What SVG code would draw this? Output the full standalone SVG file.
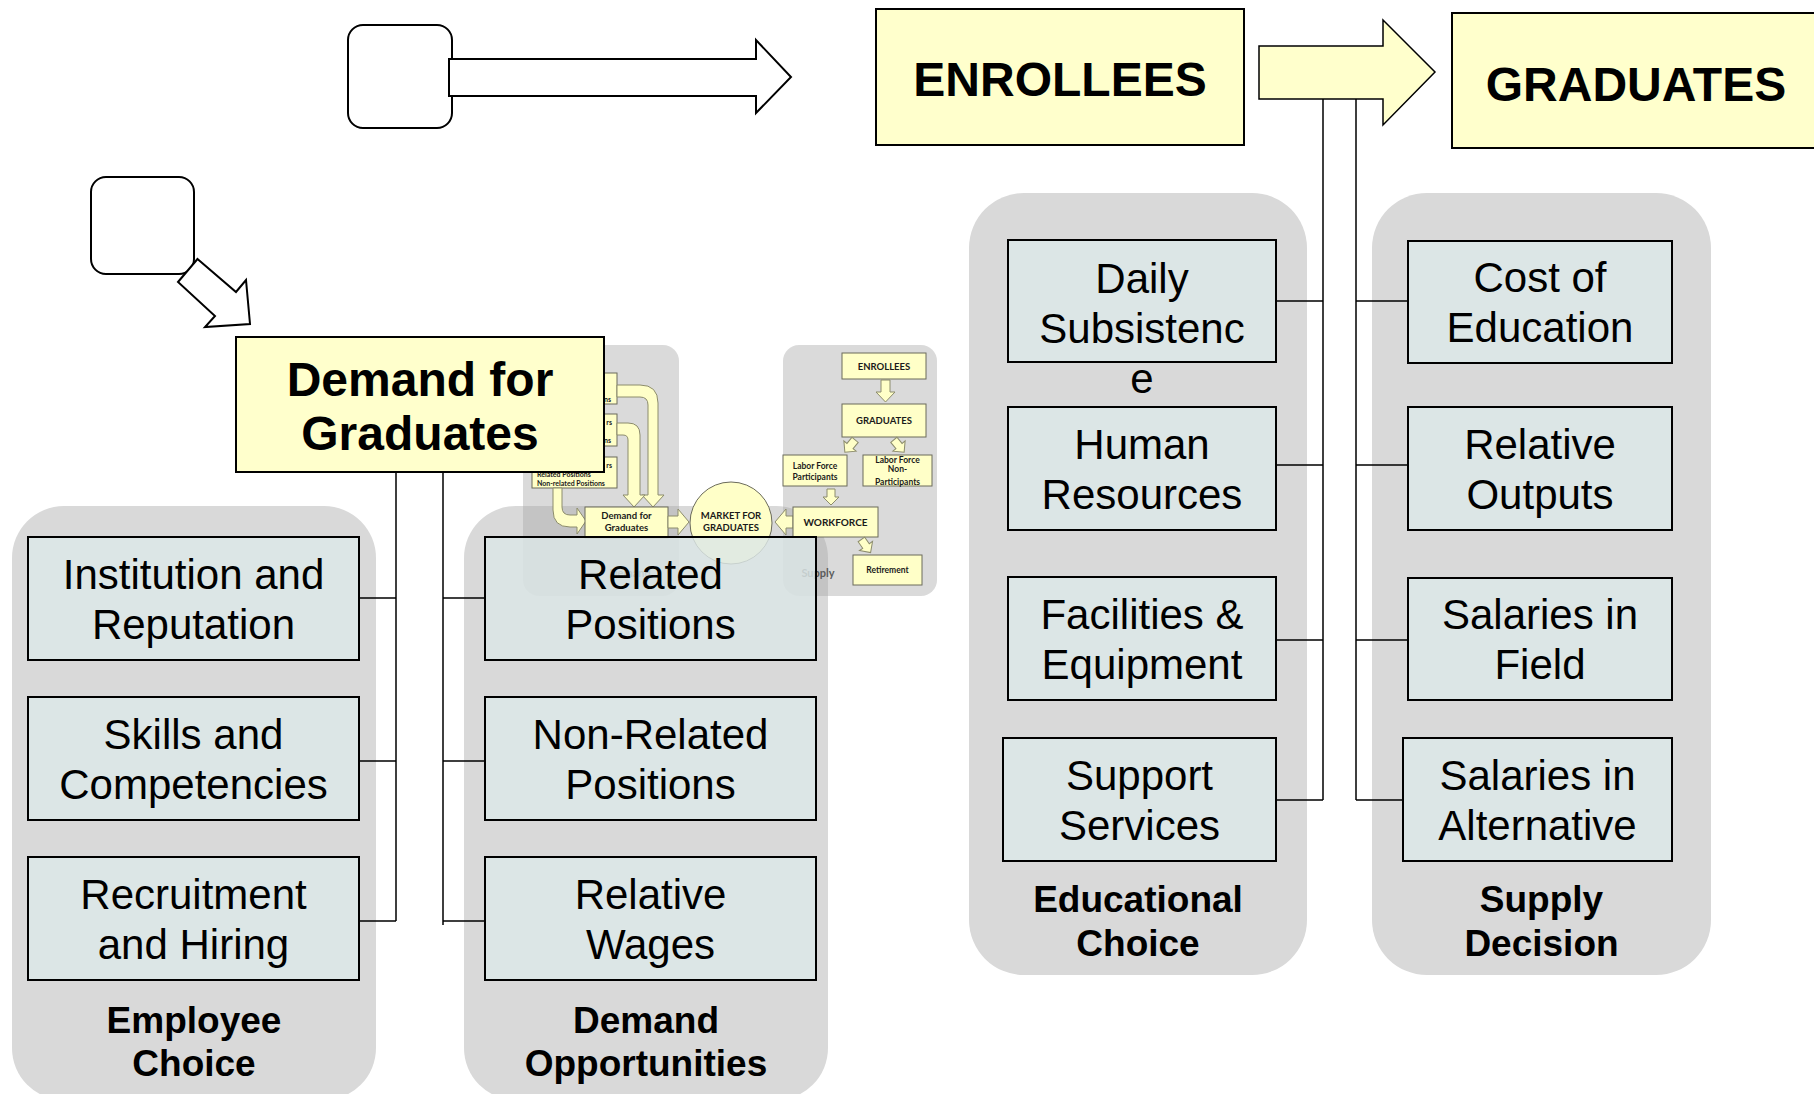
<svg xmlns="http://www.w3.org/2000/svg" width="1814" height="1094" viewBox="0 0 1814 1094">
<style>
.panel{fill:#D9D9D9}
.box{fill:#DCE6E6;stroke:#000;stroke-width:2}
.ybox{fill:#FFFFCC;stroke:#000;stroke-width:2}
.blank{fill:#FFF;stroke:#000;stroke-width:2}
.t{font-family:"Liberation Sans",Arial,sans-serif;font-size:42px;text-anchor:middle;fill:#000}
.tb{font-family:"Liberation Sans",Arial,sans-serif;font-size:48px;font-weight:bold;text-anchor:middle;fill:#000}
.lab{font-family:"Liberation Sans",Arial,sans-serif;font-size:37px;font-weight:bold;text-anchor:middle;fill:#000}
.conn{stroke:#000;stroke-width:1.5;fill:none}
.ipanel{fill:#A8A8A8;fill-opacity:0.42}
.ibox{fill:#FFFFC8;stroke:#6B6B5B;stroke-width:1}
.iarr{fill:#FFFFC8;stroke:#8C8C6C;stroke-width:1}
.it{font-family:Lato,"Open Sans",sans-serif;font-weight:bold;font-size:9.5px;text-anchor:middle;fill:#1A1A1A}
.is{font-family:Lato,"Open Sans",sans-serif;font-weight:bold;font-size:7px;fill:#1A1A1A}
.ig{font-family:Lato,"Open Sans",sans-serif;font-weight:bold;font-size:11px;text-anchor:middle;fill:#5A5A5A}
</style>
<defs>
<path id="sarr" d="M-4,-8 H4 V0 H8 L0,8 L-8,0 H-4 Z"/>
</defs>

<!-- panels -->
<g id="panel-employee-choice"><rect class="panel" x="12" y="506" width="364" height="594" rx="52"/></g>
<g id="panel-demand-opportunities"><rect class="panel" x="464" y="506" width="364" height="594" rx="52"/></g>
<g id="panel-educational-choice"><rect class="panel" x="969" y="193" width="338" height="782" rx="55"/></g>
<g id="panel-supply-decision"><rect class="panel" x="1372" y="193" width="339" height="782" rx="55"/></g>

<!-- connectors -->
<g id="connectors">
<path class="conn" d="M396,472 V921 M359,598 H396 M359,761 H396 M359,921 H396"/>
<path class="conn" d="M443,472 V925 M443,598 H485 M443,761 H485 M443,921 H485"/>
<path class="conn" d="M1323,99 V800 M1276,301 H1323 M1276,465 H1323 M1276,640 H1323 M1276,800 H1323"/>
<path class="conn" d="M1356,99 V800 M1356,301 H1408 M1356,465 H1408 M1356,640 H1408 M1356,800 H1403"/>
</g>

<!-- employee choice boxes -->
<g id="institution-reputation"><rect class="box" x="28" y="537" width="331" height="123"/><text class="t" x="193.5" y="588.5">Institution and</text><text class="t" x="193.5" y="638.5">Reputation</text></g>
<g id="skills-competencies"><rect class="box" x="28" y="697" width="331" height="123"/><text class="t" x="193.5" y="748.5">Skills and</text><text class="t" x="193.5" y="798.5">Competencies</text></g>
<g id="recruitment-hiring"><rect class="box" x="28" y="857" width="331" height="123"/><text class="t" x="193.5" y="908.5">Recruitment</text><text class="t" x="193.5" y="958.5">and Hiring</text></g>
<g id="label-employee-choice"><text class="lab" x="194" y="1033">Employee</text><text class="lab" x="194" y="1076">Choice</text></g>

<!-- inset picture -->
<g id="inset">
<rect class="ipanel" x="523" y="345" width="156" height="251" rx="16"/>
<rect class="ipanel" x="783" y="345" width="154" height="251" rx="16"/>
<text class="ig" x="630" y="577">Demand</text>
<text class="ig" x="818" y="577">Supply</text>
<rect class="ibox" x="532" y="373" width="85" height="31"/>
<rect class="ibox" x="532" y="414" width="85" height="32"/>
<rect class="ibox" x="532" y="457" width="85" height="31"/>
<text class="is" x="611" y="402" text-anchor="end">ns</text>
<text class="is" x="612" y="425" text-anchor="end">rs</text>
<text class="is" x="611" y="443" text-anchor="end">ns</text>
<text class="is" x="612" y="468" text-anchor="end">rs</text>
<text class="is" x="537" y="477">Related Positions</text>
<text class="is" x="537" y="486">Non-related Positions</text>
<path class="iarr" d="M617,385 H640 Q658,385 658,403 V495 H664 L653,507 L642,495 H648 V405 Q648,397 640,397 H617 Z"/>
<path class="iarr" d="M617,423 H628 Q640,423 640,435 V495 H645 L634,507 L623,495 H628 V440 Q628,435 623,435 H617 Z"/>
<path class="iarr" d="M553,488 V510 Q553,527 570,527 H577 V534 L586,521 L577,508 V515 H570 Q562,515 562,507 V488 Z"/>
<rect class="ibox" x="585" y="507" width="83" height="31"/>
<text class="it" x="626.5" y="519">Demand for</text>
<text class="it" x="626.5" y="531">Graduates</text>
<path class="iarr" d="M668,516 H678 V509 L689,522 L678,535 V528 H668 Z"/>
<circle class="ibox" cx="731" cy="523" r="41"/>
<text class="it" x="731" y="519">MARKET FOR</text>
<text class="it" x="731" y="531">GRADUATES</text>
<path class="iarr" d="M793,516 H786 V509 L775,522 L786,535 V528 H793 Z"/>
<rect class="ibox" x="842" y="353" width="84" height="26"/>
<text class="it" x="884" y="370">ENROLLEES</text>
<path class="iarr" d="M881,380 H890 V392 H895 L885.5,402 L876,392 H881 Z"/>
<rect class="ibox" x="842" y="404" width="84" height="33"/>
<text class="it" x="884" y="424">GRADUATES</text>
<use href="#sarr" class="iarr" transform="translate(850,446) rotate(40)"/>
<use href="#sarr" class="iarr" transform="translate(899,446) rotate(-40)"/>
<rect class="ibox" x="783" y="455" width="64" height="31"/>
<text class="it" x="815" y="469" style="font-size:8.5px">Labor Force</text>
<text class="it" x="815" y="480" style="font-size:8.5px">Participants</text>
<rect class="ibox" x="863" y="455" width="69" height="31"/>
<text class="it" x="897.5" y="463" style="font-size:8.5px">Labor Force</text>
<text class="it" x="897.5" y="472" style="font-size:8.5px">Non-</text>
<text class="it" x="897.5" y="485" style="font-size:8.5px">Participants</text>
<use href="#sarr" class="iarr" transform="translate(831,497)"/>
<rect class="ibox" x="793" y="507" width="85" height="30"/>
<text class="it" x="835.5" y="526" style="font-size:10px">WORKFORCE</text>
<use href="#sarr" class="iarr" transform="translate(866,546) rotate(-35)"/>
<rect class="ibox" x="853" y="555" width="69" height="30"/>
<text class="it" x="887.5" y="573" style="font-size:8.5px">Retirement</text>
</g>

<!-- demand opportunities boxes -->
<g id="related-positions"><rect class="box" x="485" y="537" width="331" height="123" style="fill-opacity:0.82"/><text class="t" x="650.5" y="588.5">Related</text><text class="t" x="650.5" y="638.5">Positions</text></g>
<g id="non-related-positions"><rect class="box" x="485" y="697" width="331" height="123"/><text class="t" x="650.5" y="748.5">Non-Related</text><text class="t" x="650.5" y="798.5">Positions</text></g>
<g id="relative-wages"><rect class="box" x="485" y="857" width="331" height="123"/><text class="t" x="650.5" y="908.5">Relative</text><text class="t" x="650.5" y="958.5">Wages</text></g>
<g id="label-demand-opportunities"><text class="lab" x="646" y="1033">Demand</text><text class="lab" x="646" y="1076">Opportunities</text></g>

<!-- educational choice -->
<g id="daily-subsistence"><rect class="box" x="1008" y="240" width="268" height="122"/><text class="t" x="1142" y="293">Daily</text><text class="t" x="1142" y="343">Subsistenc</text><text class="t" x="1142" y="393">e</text></g>
<g id="human-resources"><rect class="box" x="1008" y="407" width="268" height="123"/><text class="t" x="1142" y="458.5">Human</text><text class="t" x="1142" y="508.5">Resources</text></g>
<g id="facilities-equipment"><rect class="box" x="1008" y="577" width="268" height="123"/><text class="t" x="1142" y="628.5">Facilities &amp;</text><text class="t" x="1142" y="678.5">Equipment</text></g>
<g id="support-services"><rect class="box" x="1003" y="738" width="273" height="123"/><text class="t" x="1139.5" y="789.5">Support</text><text class="t" x="1139.5" y="839.5">Services</text></g>
<g id="label-educational-choice"><text class="lab" x="1138" y="912">Educational</text><text class="lab" x="1138" y="956">Choice</text></g>

<!-- supply decision -->
<g id="cost-of-education"><rect class="box" x="1408" y="241" width="264" height="122"/><text class="t" x="1540" y="292">Cost of</text><text class="t" x="1540" y="342">Education</text></g>
<g id="relative-outputs"><rect class="box" x="1408" y="407" width="264" height="123"/><text class="t" x="1540" y="458.5">Relative</text><text class="t" x="1540" y="508.5">Outputs</text></g>
<g id="salaries-field"><rect class="box" x="1408" y="578" width="264" height="122"/><text class="t" x="1540" y="629">Salaries in</text><text class="t" x="1540" y="679">Field</text></g>
<g id="salaries-alternative"><rect class="box" x="1403" y="738" width="269" height="123"/><text class="t" x="1537.5" y="789.5">Salaries in</text><text class="t" x="1537.5" y="839.5">Alternative</text></g>
<g id="label-supply-decision"><text class="lab" x="1541.5" y="912">Supply</text><text class="lab" x="1541.5" y="956">Decision</text></g>

<!-- demand for graduates -->
<g id="demand-for-graduates"><rect class="ybox" x="236" y="337" width="368" height="135"/><text class="tb" x="420" y="396">Demand for</text><text class="tb" x="420" y="450">Graduates</text></g>

<!-- top row -->
<g id="blank-box-top"><rect class="blank" x="348" y="25" width="104" height="103" rx="15"/></g>
<g id="arrow-top"><path class="blank" d="M449,59 H756 V40 L791,77 L756,113 V96 H449 Z"/></g>
<g id="blank-box-left"><rect class="blank" x="91" y="177" width="103" height="97" rx="15"/></g>
<g id="arrow-diagonal"><path class="blank" d="M197.5,259 L236,292 L246,280 L250,324 L205,327 L215,316 L178,282 Z"/></g>
<g id="enrollees"><rect class="ybox" x="876" y="9" width="368" height="136"/><text class="tb" x="1060" y="96">ENROLLEES</text></g>
<g id="arrow-enrollees-graduates"><path class="ybox" style="stroke-width:1.5" d="M1259,46 H1383 V20 L1435,72 L1383,125 V99 H1259 Z"/></g>
<g id="graduates"><rect class="ybox" x="1452" y="13" width="372" height="135"/><text class="tb" x="1636" y="101">GRADUATES</text></g>
</svg>
